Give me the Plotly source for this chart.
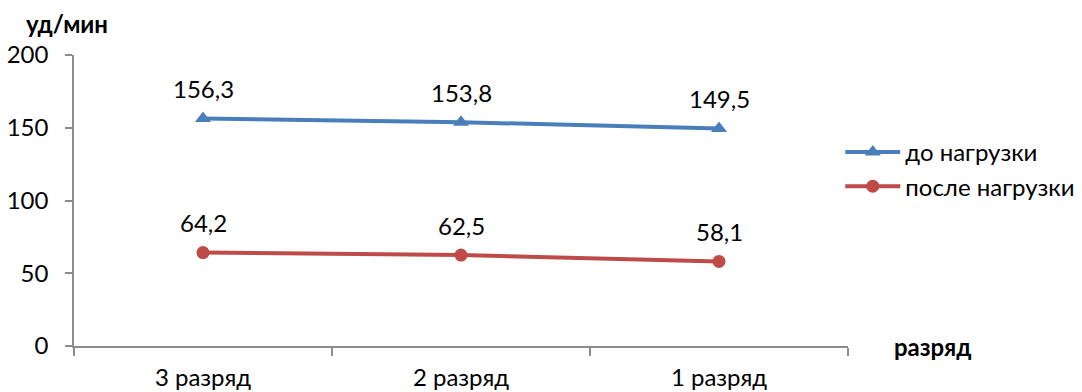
import plotly.graph_objects as go

categories = ["3 разряд", "2 разряд", "1 разряд"]
before_load = [156.3, 153.8, 149.5]
after_load = [64.2, 62.5, 58.1]
series_names = ["до нагрузки", "после нагрузки"]
y_ticks = [0, 50, 100, 150, 200]

FONT = "Lato, 'Open Sans', sans-serif"
FS = 24
BLUE = "#4a7ebb"
RED = "#be4b48"
AXIS = "#8c8c8c"

fig = go.Figure()
fig.add_trace(go.Scatter(
    x=categories, y=before_load, name=series_names[0], mode="lines+markers",
    line=dict(color=BLUE, width=4),
    marker=dict(symbol="triangle-up", size=14, color=BLUE),
))
fig.add_trace(go.Scatter(
    x=categories, y=after_load, name=series_names[1], mode="lines+markers",
    line=dict(color=RED, width=4),
    marker=dict(symbol="circle", size=13, color=RED),
))

# value labels above each point
for series in (before_load, after_load):
    for c, v in zip(categories, series):
        fig.add_annotation(
            x=c, y=v, text=f"{v:.1f}".replace(".", ","), showarrow=False,
            yshift=30, font=dict(family=FONT, size=FS, color="#000"),
        )

fig.add_annotation(
    xref="paper", yref="paper", x=-0.064, y=1.053, xanchor="left", yanchor="bottom",
    text="<b>уд/мин</b>", showarrow=False, font=dict(family=FONT, size=FS, color="#000"),
)
fig.add_annotation(
    xref="paper", yref="y", x=1.057, y=0, xanchor="left", yanchor="middle",
    text="<b>разряд</b>", showarrow=False, font=dict(family=FONT, size=FS, color="#000"),
)

fig.update_layout(
    width=1082, height=392,
    margin=dict(l=74, r=234, t=55, b=46, autoexpand=False),
    paper_bgcolor="white", plot_bgcolor="white",
    font=dict(family=FONT, size=FS, color="#000"),
    legend=dict(x=0.99, y=0.607, xanchor="left", yanchor="middle",
                font=dict(family=FONT, size=FS), tracegroupgap=0,
                itemwidth=55, bgcolor="rgba(0,0,0,0)"),
    xaxis=dict(
        type="category", range=[-0.5, 2.5], tickson="boundaries",
        showline=True, linecolor=AXIS, linewidth=1.5,
        ticks="outside", ticklen=8, tickcolor=AXIS, tickwidth=1.5,
        showgrid=False, zeroline=False, ticklabelstandoff=9,
        automargin=False, tickfont=dict(family=FONT, size=FS),
    ),
    yaxis=dict(
        range=[0, 200], tickvals=y_ticks,
        showline=True, linecolor=AXIS, linewidth=1.5,
        ticks="outside", ticklen=7, tickcolor=AXIS, tickwidth=1.5,
        showgrid=False, zeroline=False, ticklabelstandoff=12,
        automargin=False, tickfont=dict(family=FONT, size=FS),
    ),
)

fig.write_html("out.html")
